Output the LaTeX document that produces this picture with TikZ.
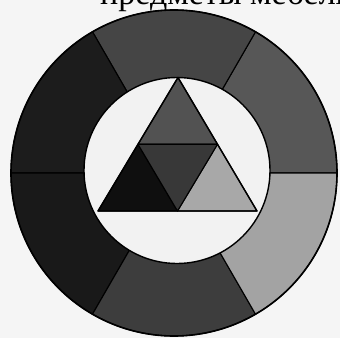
\documentclass[tikz,border=0pt]{standalone}
\usepackage{fontspec}
\setmainfont{Liberation Serif}
\usetikzlibrary{calc}
\begin{document}
\begin{tikzpicture}[x=1pt,y=1pt,line cap=round,line join=round]
	\useasboundingbox (0,0) rectangle (340,338);
	\fill[black!4] (0,0) rectangle (340,338);
	\node[anchor=base west,inner sep=0pt,font=\fontsize{34}{34}\selectfont] (caption) at (100,333) {предметы мебели};
	\def\R{163}
	\coordinate (ringc) at (174,165);
	\foreach \a/\c in {0/66,60/73,120/89,180/90,240/76,300/36}{\filldraw[fill=black!\c,line width=1.1pt] (ringc) -- ++(\a:\R) arc[start angle=\a,end angle=\a+60,radius=\R] -- cycle;}
	\draw[line width=1.6pt] (ringc) circle[radius=\R];
	\filldraw[fill=black!5,line width=1.4pt] (177,167.5) coordinate (hubc) circle[radius=93];
	\coordinate (ta) at (178,260.5);
	\coordinate (tb) at (98,127);
	\coordinate (tc) at (257,127);
	\coordinate (mab) at ($(ta)!.5!(tb)$);
	\coordinate (mac) at ($(ta)!.5!(tc)$);
	\coordinate (mbc) at ($(tb)!.5!(tc)$);
	\tikzset{tri/.style={draw,line width=1.1pt,fill=black!#1}}
	\path[tri=68] (ta) -- (mab) -- (mac) -- cycle;
	\path[tri=94] (tb) -- (mbc) -- (mab) -- cycle;
	\path[tri=34] (tc) -- (mac) -- (mbc) -- cycle;
	\path[tri=78] (mab) -- (mac) -- (mbc) -- cycle;
	\draw[line width=1.4pt] (ta) -- (tb) -- (tc) -- cycle;
\end{tikzpicture}
\end{document}
